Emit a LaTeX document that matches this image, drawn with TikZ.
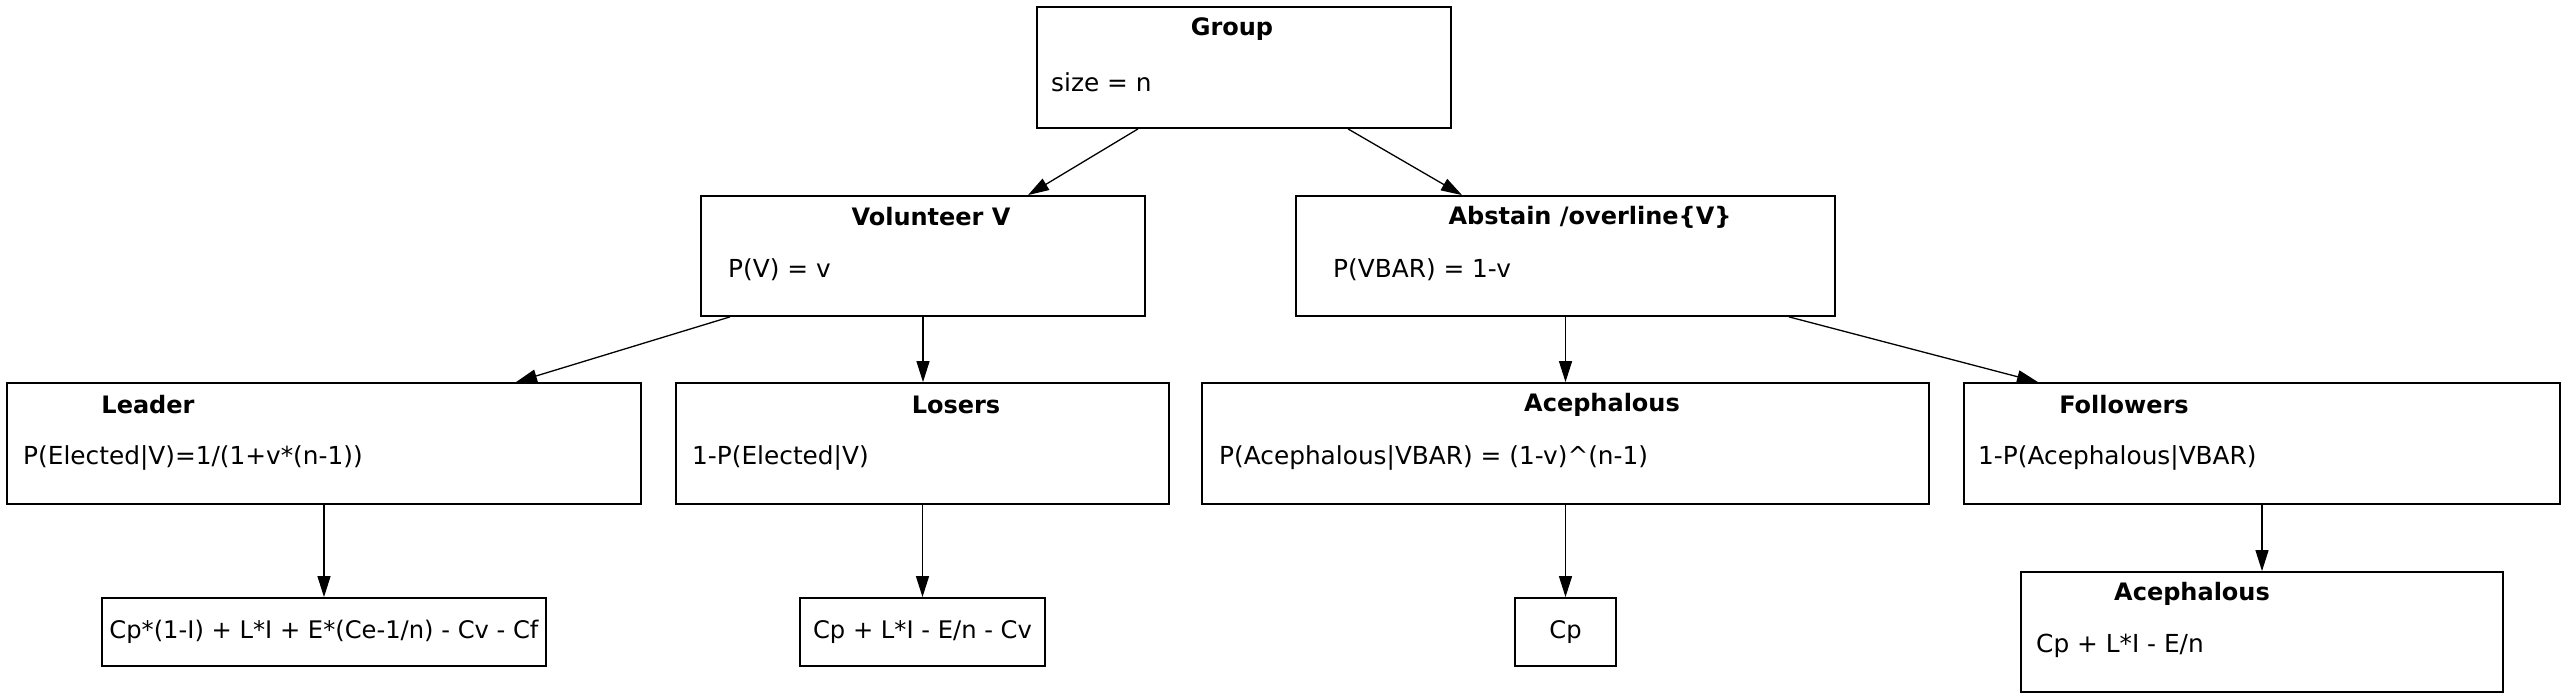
\documentclass[tikz,border=0pt]{standalone}
\usepackage{fontspec}
\setmainfont{DejaVu Sans}
\usetikzlibrary{arrows.meta}
\begin{document}
\begin{tikzpicture}[x=1pt,y=-1pt,
  box/.style={draw=black,line width=1.8pt,fill=white,inner sep=0pt,rectangle},
  ttl/.style={font=\fontsize{24}{28}\selectfont\bfseries,inner sep=0pt,anchor=center},
  bdy/.style={font=\fontsize{24.8}{28}\selectfont,inner sep=0pt,anchor=west},
  cbdy/.style={font=\fontsize{24.2}{28}\selectfont,inner sep=0pt,anchor=center},
  arr/.style={line width=1.3pt,-{Triangle[length=21pt,width=13pt]}}]
\useasboundingbox (0,0) rectangle (2568,700);
% boxes
\node[box,minimum width=414pt,minimum height=121pt] (group) at (1244,67.5) {};
\node[box,minimum width=444pt,minimum height=120pt] (vol) at (923,256) {};
\node[box,minimum width=539pt,minimum height=120pt] (abst) at (1565.5,256) {};
\node[box,minimum width=634pt,minimum height=121pt] (leader) at (324,443.5) {};
\node[box,minimum width=493pt,minimum height=121pt] (losers) at (922.5,443.5) {};
\node[box,minimum width=727pt,minimum height=121pt] (aceph) at (1565.5,443.5) {};
\node[box,minimum width=596pt,minimum height=121pt] (follow) at (2262,443.5) {};
\node[box,minimum width=444pt,minimum height=68pt] (payA) at (324,632) {};
\node[box,minimum width=245pt,minimum height=68pt] (payB) at (922.5,632) {};
\node[box,minimum width=101pt,minimum height=68pt] (payC) at (1565.5,632) {};
\node[box,minimum width=482pt,minimum height=120pt] (payD) at (2262,632) {};
% texts
\node[ttl] (groupT) at (1232,29) {Group};
\node[bdy] (groupB) at (1051,82) {size = n};
\node[ttl] (volT) at (931,217) {Volunteer V};
\node[bdy] (volB) at (728,270) {P(V) = v};
\node[ttl] (abstT) at (1590,217) {Abstain /overline\{V\}};
\node[bdy] (abstB) at (1333,270) {P(VBAR) = 1-v};
\node[ttl] (leaderT) at (148,405) {Leader};
\node[bdy] (leaderB) at (23,458) {P(Elected|V)=1/(1+v*(n-1))};
\node[ttl] (losersT) at (956,405) {Losers};
\node[bdy] (losersB) at (692,458) {1-P(Elected|V)};
\node[ttl] (acephT) at (1602,405) {Acephalous};
\node[bdy] (acephB) at (1219,458) {P(Acephalous|VBAR) = (1-v)\textasciicircum(n-1)};
\node[ttl] (followT) at (2124,405) {Followers};
\node[bdy] (followB) at (1978,458) {1-P(Acephalous|VBAR)};
\node[cbdy] (payAT) at (324,632) {Cp*(1-I) + L*I + E*(Ce-1/n) - Cv - Cf};
\node[cbdy] (payBT) at (922.5,632) {Cp + L*I - E/n - Cv};
\node[cbdy] (payCT) at (1565.5,632) {Cp};
\node[ttl] (payDT) at (2192,594) {Acephalous};
\node[bdy] (payDB) at (2036,646) {Cp + L*I - E/n};
% connectors
\draw[arr] ([xshift=-106pt]group.south) -- ([xshift=105pt]vol.north);
\draw[arr] ([xshift=104pt]group.south) -- ([xshift=-103.5pt]abst.north);
\draw[arr] ([xshift=-193pt]vol.south) -- ([xshift=192pt]leader.north);
\draw[arr] (vol.south) -- (vol.south |- losers.north);
\draw[arr] (abst.south) -- (aceph.north);
\draw[arr] ([xshift=223.5pt]abst.south) -- ([xshift=-224pt]follow.north);
\draw[arr] (leader.south) -- (payA.north);
\draw[arr] (losers.south) -- (payB.north);
\draw[arr] (aceph.south) -- (payC.north);
\draw[arr] (follow.south) -- (payD.north);
\end{tikzpicture}
\end{document}
